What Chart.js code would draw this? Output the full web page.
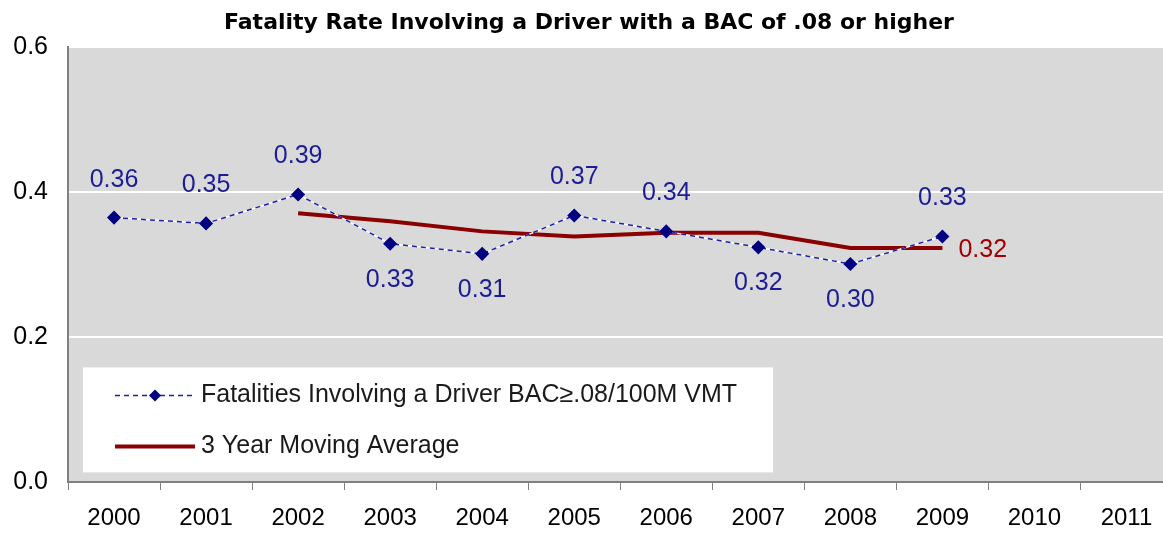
<!DOCTYPE html>
<html>
<head>
<meta charset="utf-8">
<script src="https://cdn.jsdelivr.net/npm/chart.js@4.4.1/dist/chart.umd.min.js"></script>
<style>
  html, body { margin: 0; padding: 0; background: #fff; overflow: hidden; }
  #wrap { width: 1163px; height: 533px; overflow: hidden; }
</style>
</head>
<body>
<div id="wrap"><canvas id="chart" width="1180" height="533"></canvas></div>
<script>
// data
var years = ['2000', '2001', '2002', '2003', '2004', '2005', '2006', '2007', '2008', '2009', '2010', '2011'];
var bacRate = [0.365, 0.357, 0.397, 0.329, 0.315, 0.368, 0.346, 0.324, 0.301, 0.339];
var bacLabels = ['0.36', '0.35', '0.39', '0.33', '0.31', '0.37', '0.34', '0.32', '0.30', '0.33'];
var movingAvg = [null, null, 0.371, 0.360, 0.346, 0.339, 0.344, 0.344, 0.323, 0.323];
var yTicks = [0, 0.2, 0.4, 0.6];

var FONT = 'Liberation Sans, Arial, sans-serif';
var BLUE = '#000080';
var LINE_BLUE = '#1f1fa6';
var LABEL_BLUE = '#1c1c96';
var RED = '#8B0000';

// plot background
var bgPlugin = {
  id: 'plotBg',
  beforeDraw: function (chart) {
    var a = chart.chartArea, ctx = chart.ctx;
    ctx.save();
    ctx.fillStyle = '#d9d9d9';
    ctx.fillRect(a.left, a.top, a.right - a.left, a.bottom - a.top);
    ctx.restore();
  },
  // white under the dashed series, like the gaps in the original
  beforeDatasetDraw: function (chart, args) {
    if (args.index !== 0) return;
    var pts = args.meta.data, ctx = chart.ctx;
    ctx.save();
    ctx.strokeStyle = '#ffffff';
    ctx.lineWidth = 1.5;
    ctx.beginPath();
    pts.forEach(function (p, i) { if (i === 0) ctx.moveTo(p.x, p.y); else ctx.lineTo(p.x, p.y); });
    ctx.stroke();
    ctx.restore();
  }
};

// value labels
var below = [3, 4, 7, 8];
var labelPlugin = {
  id: 'valueLabels',
  afterDatasetsDraw: function (chart) {
    var ctx = chart.ctx;
    ctx.save();
    ctx.font = '25px ' + FONT;
    ctx.textAlign = 'center';
    ctx.textBaseline = 'middle';
    ctx.fillStyle = LABEL_BLUE;
    chart.getDatasetMeta(0).data.forEach(function (pt, i) {
      var dy = below.indexOf(i) >= 0 ? 36 : -38;
      ctx.fillText(bacLabels[i], pt.x, pt.y + dy);
    });
    var avgMeta = chart.getDatasetMeta(1).data;
    var last = avgMeta[avgMeta.length - 1];
    ctx.fillStyle = '#a00000';
    ctx.textAlign = 'left';
    ctx.fillText(movingAvg[movingAvg.length - 1].toFixed(2), last.x + 16, last.y + 2);
    ctx.restore();
  }
};

// legend box inside plot
var legendPlugin = {
  id: 'boxLegend',
  afterDraw: function (chart) {
    var a = chart.chartArea, ctx = chart.ctx;
    var x = a.left + 15, y = a.top + 320, w = 690, h = 105;
    ctx.save();
    ctx.fillStyle = '#ffffff';
    ctx.fillRect(x, y, w, h);
    // entry 1
    var y1 = y + 28;
    ctx.strokeStyle = LINE_BLUE;
    ctx.lineWidth = 1.5;
    ctx.setLineDash([5, 4]);
    ctx.beginPath(); ctx.moveTo(x + 32, y1); ctx.lineTo(x + 112, y1); ctx.stroke();
    ctx.setLineDash([]);
    ctx.fillStyle = BLUE;
    ctx.beginPath();
    ctx.moveTo(x + 72, y1 - 6); ctx.lineTo(x + 78, y1); ctx.lineTo(x + 72, y1 + 6); ctx.lineTo(x + 66, y1);
    ctx.closePath(); ctx.fill();
    // entry 2
    var y2 = y + 79;
    ctx.strokeStyle = RED;
    ctx.lineWidth = 4;
    ctx.beginPath(); ctx.moveTo(x + 32, y2); ctx.lineTo(x + 112, y2); ctx.stroke();
    ctx.fillStyle = '#1a1a1a';
    ctx.font = '25px ' + FONT;
    ctx.textBaseline = 'middle';
    ctx.fillText('Fatalities Involving a Driver BAC\u2265.08/100M VMT', x + 118, y1);
    ctx.fillText('3 Year Moving Average', x + 118, y2);
    ctx.restore();
  }
};

new Chart(document.getElementById('chart'), {
  type: 'line',
  data: {
    labels: years,
    datasets: [
      {
        label: 'Fatalities Involving a Driver BAC\u2265.08/100M VMT',
        data: bacRate,
        borderColor: LINE_BLUE,
        borderWidth: 1.5,
        borderDash: [5, 4],
        pointStyle: 'rectRot',
        pointRadius: 6,
        pointBackgroundColor: BLUE,
        pointBorderColor: BLUE,
        tension: 0
      },
      {
        label: '3 Year Moving Average',
        data: movingAvg,
        borderColor: RED,
        borderWidth: 4,
        pointRadius: 0,
        tension: 0
      }
    ]
  },
  options: {
    responsive: false,
    animation: false,
    layout: { padding: { left: 0, right: 2, top: 0, bottom: 0 } },
    plugins: {
      legend: { display: false },
      tooltip: { enabled: false },
      title: {
        display: true,
        text: 'Fatality Rate Involving a Driver with a BAC of .08 or higher',
        color: '#000',
        font: { family: 'DejaVu Sans', size: 22, weight: 'bold' },
        padding: { top: 10, bottom: 11 },
        fullSize: true
      }
    },
    scales: {
      x: {
        offset: true,
        grid: { offset: true, drawOnChartArea: false, tickLength: 8, color: '#808080' },
        border: { color: '#808080', width: 2 },
        ticks: { color: '#000', font: { family: FONT, size: 24 }, padding: 14, autoSkip: false, maxRotation: 0 },
        afterFit: function (s) { s.height = 51; }
      },
      y: {
        min: 0,
        max: 0.6,
        afterBuildTicks: function (s) { s.ticks = yTicks.map(function (v) { return { value: v }; }); },
        grid: { color: '#ffffff', lineWidth: 2, drawTicks: false },
        border: { color: '#808080', width: 2 },
        ticks: {
          color: '#000',
          font: { family: FONT, size: 25 },
          padding: 20,
          callback: function (v) { return Number(v).toFixed(1); }
        },
        afterFit: function (s) { s.width = 68; }
      }
    }
  },
  plugins: [bgPlugin, labelPlugin, legendPlugin]
});
</script>
</body>
</html>
